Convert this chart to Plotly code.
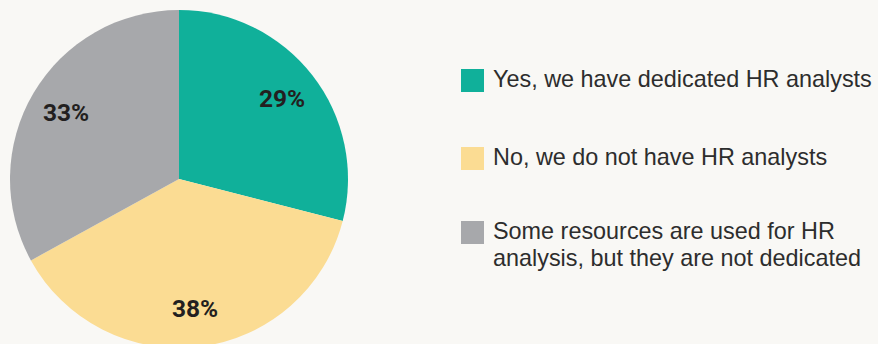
import math
import plotly.graph_objects as go

# Survey answers and their shares (%)
labels = [
    "Yes, we have dedicated HR analysts",
    "No, we do not have HR analysts",
    "Some resources are used for HR<br>analysis, but they are not dedicated",
]
values = [29, 38, 33]
colors = ["#10b09a", "#fbdc93", "#a7a8ab"]

W, H = 878, 358
BG = "#f9f8f5"
TEXT = "#2d2d2d"

# Pie geometry in pixels
CX, CY, R = 179, 179, 169
LABEL_R = 0.775

fig = go.Figure(
    go.Pie(
        labels=labels,
        values=values,
        sort=False,
        direction="clockwise",
        rotation=0,
        marker=dict(colors=colors, line=dict(width=0)),
        textinfo="none",
        domain=dict(x=[(CX - R) / W, (CX + R) / W], y=[1 - (CY + R) / H, 1 - (CY - R) / H]),
        showlegend=False,
        hoverinfo="label+percent",
    )
)

annotations, shapes = [], []

# Percentage labels placed along each slice's mid-angle (clockwise from 12 o'clock)
total = sum(values)
cum = 0
for v in values:
    mid = (cum + v / 2) / total * 2 * math.pi
    cum += v
    px = CX + LABEL_R * R * math.sin(mid)
    py = CY - LABEL_R * R * math.cos(mid)
    annotations.append(dict(xref="paper", yref="paper", x=px / W, y=1 - py / H,
                            xanchor="center", yanchor="middle", showarrow=False,
                            text=f"{round(v / total * 100)}%",
                            font=dict(family="Roboto, Liberation Sans, sans-serif",
                                      size=24.5, color="#231f20", weight="bold")))

# Legend: a colour swatch and the answer text for each slice
sw = 23
x_sw = 461
x_txt = 491
item_top = [69, 147, 221]
line_gap = 27
for lab, col, top in zip(labels, colors, item_top):
    shapes.append(dict(type="rect", xref="paper", yref="paper",
                       x0=x_sw / W, x1=(x_sw + sw) / W,
                       y0=1 - (top + sw) / H, y1=1 - top / H,
                       fillcolor=col, line=dict(width=0)))
    for i, line in enumerate(lab.split("<br>")):
        cy = top + sw / 2 - 1.5 + i * line_gap
        annotations.append(dict(xref="paper", yref="paper", x=x_txt / W, y=1 - cy / H,
                                xanchor="left", yanchor="middle", showarrow=False,
                                text=line,
                                font=dict(family="Liberation Sans, Arial, sans-serif",
                                          size=23.4, color=TEXT)))

fig.update_layout(
    width=W, height=H,
    margin=dict(l=0, r=0, t=0, b=0),
    paper_bgcolor=BG, plot_bgcolor=BG,
    shapes=shapes, annotations=annotations,
)

fig.write_html("out.html")
